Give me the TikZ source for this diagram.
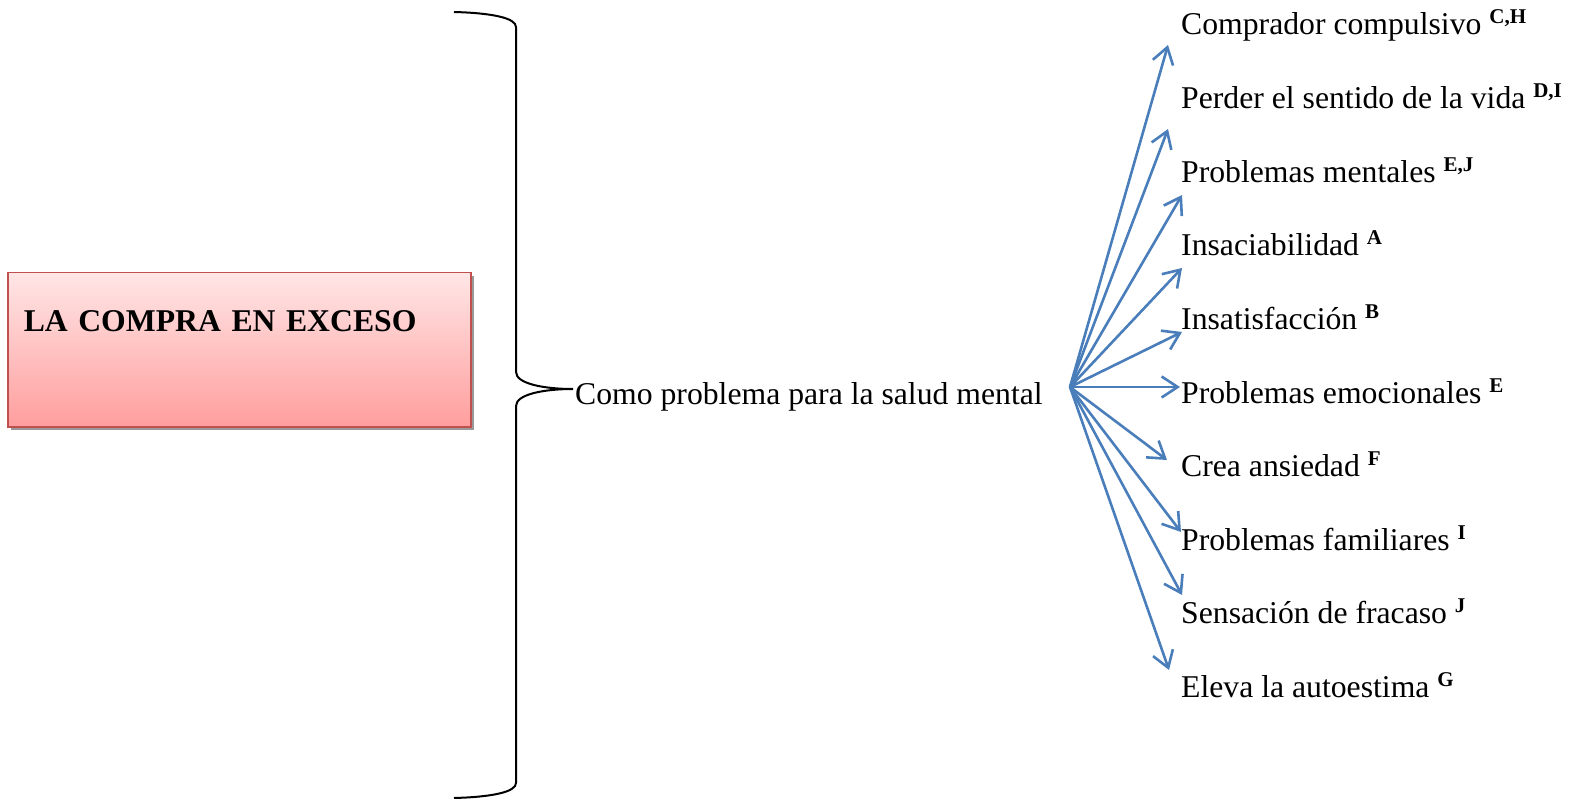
\documentclass[tikz,border=0pt]{standalone}
\usepackage{fontspec}
\setmainfont{Liberation Serif}
\usetikzlibrary{arrows.meta,shadows}

\definecolor{pinktop}{RGB}{255,230,230}
\definecolor{pinkbot}{RGB}{255,158,158}
\definecolor{boxline}{RGB}{192,80,77}
\definecolor{arrowblue}{RGB}{74,126,187}

\newcommand{\refmark}[1]{\raisebox{11pt}{\fontsize{21}{21}\selectfont\bfseries #1}}

\tikzset{
  titlebox/.style={draw=boxline, line width=1.5pt, top color=pinktop, bottom color=pinkbot,
    drop shadow={shadow xshift=3pt, shadow yshift=-3pt, fill=black!40, opacity=1}},
  item/.style={anchor=base west, inner sep=0pt, font=\fontsize{31.7}{38}\selectfont},
  arr/.style={draw=arrowblue, line width=2.6pt, -{Straight Barb[length=16pt,width=21pt]}},
}

\begin{document}
\begin{tikzpicture}[x=1pt,y=1pt]
      \useasboundingbox (0,0) rectangle (1573,-799);
      % left box
      \node[titlebox, anchor=north west, text width=431pt, inner xsep=16pt, inner ysep=10pt,
        text height=49pt, text depth=85pt, align=left,
        font=\fontsize{31.7}{38}\selectfont\bfseries] (title) at (7,-272) {LA COMPRA EN EXCESO};
      % brace
      \coordinate (tip) at (573,-389);
      \draw[line width=2pt] (454,-12) .. controls (492,-13) and (516,-18) .. (516,-27)
        -- (516,-372) .. controls (516,-384) and (545,-389) .. (tip)
        .. controls (545,-389) and (516,-394) .. (516,-406)
        -- (516,-783) .. controls (516,-792) and (492,-797) .. (454,-798);
      \node[item] (salud) at (575,-404) {Como problema para la salud mental};
      \coordinate (hub) at (1070,-387);
      % effects
      \node[item] (0) at (1181,-35) {Comprador compulsivo \refmark{C,H}};
      \node[item] (1) at (1181,-108.6) {Perder el sentido de la vida \refmark{D,I}};
      \node[item] (2) at (1181,-182.2) {Problemas mentales \refmark{E,J}};
      \node[item] (3) at (1181,-255.8) {Insaciabilidad \refmark{A}};
      \node[item] (4) at (1181,-329.4) {Insatisfacción \refmark{B}};
      \node[item] (5) at (1181,-403) {Problemas emocionales \refmark{E}};
      \node[item] (6) at (1181,-476.6) {Crea ansiedad \refmark{F}};
      \node[item] (7) at (1181,-550.2) {Problemas familiares \refmark{I}};
      \node[item] (8) at (1181,-623.8) {Sensación de fracaso \refmark{J}};
      \node[item] (9) at (1181,-697.4) {Eleva la autoestima \refmark{G}};
      \coordinate (t0) at (1168,-45);
      \coordinate (t1) at (1168,-129);
      \coordinate (t2) at (1182,-195);
      \coordinate (t3) at (1182,-268);
      \coordinate (t4) at (1182,-332);
      \coordinate (t5) at (1180,-387);
      \coordinate (t6) at (1167,-460);
      \coordinate (t7) at (1181,-532);
      \coordinate (t8) at (1182,-595);
      \coordinate (t9) at (1169,-670);
      \begin{scope}[arr]
        \draw (hub) -- (t0);
        \draw (hub) -- (t1);
        \draw (hub) -- (t2);
        \draw (hub) -- (t3);
        \draw (hub) -- (t4);
        \draw (hub) -- (t5);
        \draw (hub) -- (t6);
        \draw (hub) -- (t7);
        \draw (hub) -- (t8);
        \draw (hub) -- (t9);
      \end{scope}
    \end{tikzpicture}
\end{document}
